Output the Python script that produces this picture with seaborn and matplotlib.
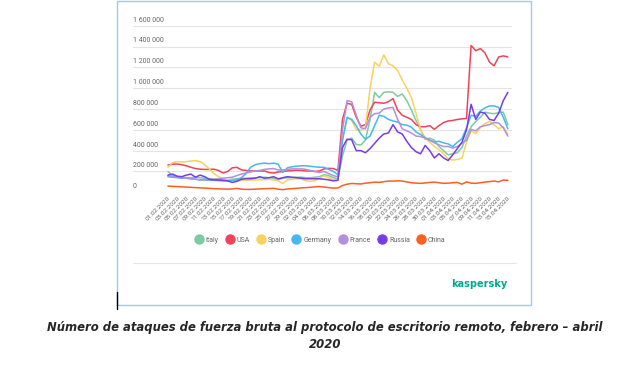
import pandas as pd
import numpy as np
import matplotlib
matplotlib.use('Agg')
import matplotlib.pyplot as plt
import seaborn as sns
from matplotlib.lines import Line2D
from matplotlib.patches import Rectangle

# Daily brute-force attacks on RDP, 01.02.2020 - 15.04.2020
dates = pd.date_range('2020-02-01', '2020-04-15', freq='D')
countries = ['Italy', 'USA', 'Spain', 'Germany', 'France', 'Russia', 'China']
colors = ['#7ccba2', '#f0435a', '#f7d25f', '#45b8f0', '#b48fdc', '#7a3be6', '#ff5f1f']

italy = [200, 160, 150, 145, 140, 140, 145, 140, 135, 130,
         125, 120, 120, 120, 125, 130, 135, 135, 140, 140,
         140, 145, 140, 135, 120, 135, 140, 140, 145, 145,
         140, 140, 145, 150, 170, 160, 140, 130, 350, 500,
         520, 460, 455, 500, 700, 960, 910, 960, 965, 960,
         920, 945, 880, 790, 690, 600, 510, 520, 500, 440,
         400, 360, 370, 380, 430, 540, 630, 680, 720, 770,
         760, 755, 765, 770, 650]
usa = [262, 270, 272, 265, 255, 240, 228, 222, 220, 220,
       222, 210, 185, 200, 235, 240, 215, 210, 205, 205,
       205, 205, 190, 185, 195, 200, 205, 208, 212, 210,
       205, 205, 200, 205, 225, 230, 228, 210, 700, 855,
       845, 720, 635, 650, 790, 865, 860, 855, 870, 900,
       790, 740, 720, 700, 650, 630, 630, 640, 605, 640,
       670, 685, 690, 700, 705, 710, 1410, 1360, 1380, 1340,
       1250, 1215, 1300, 1310, 1300]
spain = [240, 285, 295, 290, 295, 300, 305, 295, 265, 225,
         180, 150, 130, 120, 115, 110, 115, 115, 118, 118,
         120, 120, 125, 120, 110, 85, 120, 125, 128, 130,
         110, 105, 110, 135, 160, 140, 120, 115, 500, 720,
         690, 600, 595, 620, 1000, 1250, 1210, 1320, 1235, 1215,
         1170, 1080, 1000, 910, 760, 600, 520, 480, 440, 410,
         370, 320, 310, 315, 330, 480, 590, 565, 620, 660,
         680, 650, 610, 630, 560]
germany = [150, 145, 140, 135, 135, 130, 125, 120, 118, 115,
           115, 112, 110, 110, 115, 120, 140, 180, 240, 265,
           275, 280, 275, 280, 270, 190, 235, 245, 250, 255,
           255, 250, 245, 240, 240, 220, 200, 170, 500, 720,
           700, 640, 560, 510, 540, 640, 740, 730, 700, 685,
           675, 650, 645, 625, 580, 555, 525, 500, 485, 490,
           475, 465, 440, 480, 515, 620, 740, 730, 780, 810,
           830, 830, 815, 720, 610]
france = [160, 150, 145, 140, 135, 130, 125, 120, 120, 120,
          125, 130, 135, 140, 145, 160, 175, 185, 195, 205,
          210, 220, 225, 228, 215, 215, 220, 225, 225, 225,
          220, 210, 200, 190, 200, 180, 160, 150, 600, 880,
          870, 740, 620, 610, 720, 755, 760, 800, 810, 815,
          700, 610, 590, 570, 540, 535, 520, 500, 475, 455,
          440, 440, 425, 440, 470, 500, 605, 590, 630, 640,
          650, 670, 665, 620, 540]
russia = [165, 175, 155, 150, 165, 175, 145, 165, 150, 125,
          120, 118, 115, 110, 95, 105, 125, 130, 130, 135,
          150, 135, 140, 150, 130, 140, 150, 145, 140, 135,
          130, 130, 130, 130, 125, 120, 110, 115, 430, 510,
          505, 400, 400, 380, 420, 470, 520, 560, 570, 650,
          580, 560, 490, 430, 390, 370, 450, 400, 330, 370,
          330, 305, 360, 420, 480, 600, 845, 700, 770, 760,
          700, 690, 760, 880, 960]
china = [60, 57, 55, 52, 50, 48, 45, 43, 40, 38,
         35, 33, 32, 30, 32, 38, 30, 28, 28, 30,
         32, 35, 36, 38, 30, 25, 32, 35, 38, 42,
         45, 48, 52, 55, 50, 45, 40, 42, 65, 78,
         85, 82, 80, 88, 92, 98, 95, 102, 108, 108,
         110, 108, 100, 92, 88, 86, 90, 95, 98, 92,
         86, 88, 92, 95, 78, 100, 88, 86, 92, 98,
         103, 108, 100, 118, 115]

y_ticks = [0, 200000, 400000, 600000, 800000, 1000000, 1200000, 1400000, 1600000]
y_labels = ['0', '200 000', '400 000', '600 000', '800 000',
            '1 000 000', '1 200 000', '1 400 000', '1 600 000']
caption = 'Número de ataques de fuerza bruta al protocolo de escritorio remoto, febrero – abril\n2020'

sns.set_theme(style='white')
plt.rcParams['font.family'] = ['Roboto', 'DejaVu Sans']

wide = pd.DataFrame({'date': dates, 'Italy': italy, 'USA': usa, 'Spain': spain,
                     'Germany': germany, 'France': france, 'Russia': russia,
                     'China': china})
df = wide.melt(id_vars='date', var_name='country', value_name='attacks')
df['attacks'] = df['attacks'] * 1000

W, H = 634, 375
fig = plt.figure(figsize=(W / 100, H / 100), dpi=100)
ax = fig.add_axes([133 / W, 1 - 192.3 / H, 379 / W, 166.6 / H])

sns.lineplot(data=df, x='date', y='attacks', hue='country', hue_order=countries,
             palette=dict(zip(countries, colors)), linewidth=1.1, ax=ax, legend=False)

ax.set_ylim(0, 1600000)
ax.set_xlim(dates[0] - pd.Timedelta(days=7.6), dates[-1] + pd.Timedelta(days=0.9))
ax.set_axisbelow(True)
ax.set_yticks(y_ticks)
ax.set_yticklabels([])
ax.tick_params(axis='y', length=0)
ax.grid(axis='y', color='#e4e4e4', linewidth=0.8)
for s in ax.spines.values():
    s.set_visible(False)
for v, lab in zip(y_ticks, y_labels):
    ax.annotate(lab, (0, v), xycoords=ax.get_yaxis_transform(), xytext=(0, 1.5),
                textcoords='offset points', ha='left', va='bottom',
                fontsize=5, color='#666666')

ax.set_xticks(dates[::2])
ax.set_xticklabels([d.strftime('%d.%m.%Y') for d in dates[::2]], rotation=45,
                   ha='right', rotation_mode='anchor', fontsize=4.6, color='#666666')
ax.tick_params(axis='x', length=0, pad=2)
ax.set_xlabel('')
ax.set_ylabel('')

# legend with round dots
handles = [Line2D([], [], marker='o', linestyle='', markersize=6.5,
                  markerfacecolor=c, markeredgecolor=c) for c in colors]
fig.legend(handles, countries, loc='center', bbox_to_anchor=(320 / W, 1 - 240 / H),
           ncol=7, frameon=False, fontsize=5, handlelength=1.2, handletextpad=0.4,
           columnspacing=1.0, labelcolor='#666666')

# frame, separator and logo
fig.add_artist(Rectangle((117 / W, 1 - 305 / H), (531 - 117) / W, 304 / H,
                         transform=fig.transFigure, fill=False,
                         edgecolor='#a8c6ea', linewidth=1))
fig.add_artist(Line2D([133 / W, 516 / W], [1 - 263 / H, 1 - 263 / H],
                      color='#e6e6e6', linewidth=0.8))
fig.add_artist(Line2D([117 / W, 117 / W], [1 - 292 / H, 1 - 309 / H],
                      color='black', linewidth=1))
fig.text(507 / W, 1 - 284 / H, 'kaspersky', ha='right', va='center', fontsize=7,
         fontweight='bold', color='#00a88e', family='DejaVu Sans')

fig.text(325 / W, 1 - 336 / H, caption, ha='center', va='center', fontsize=8.4,
         fontweight='bold', fontstyle='italic', family='DejaVu Sans',
         linespacing=1.3)

fig.savefig('out.png', dpi=100)
